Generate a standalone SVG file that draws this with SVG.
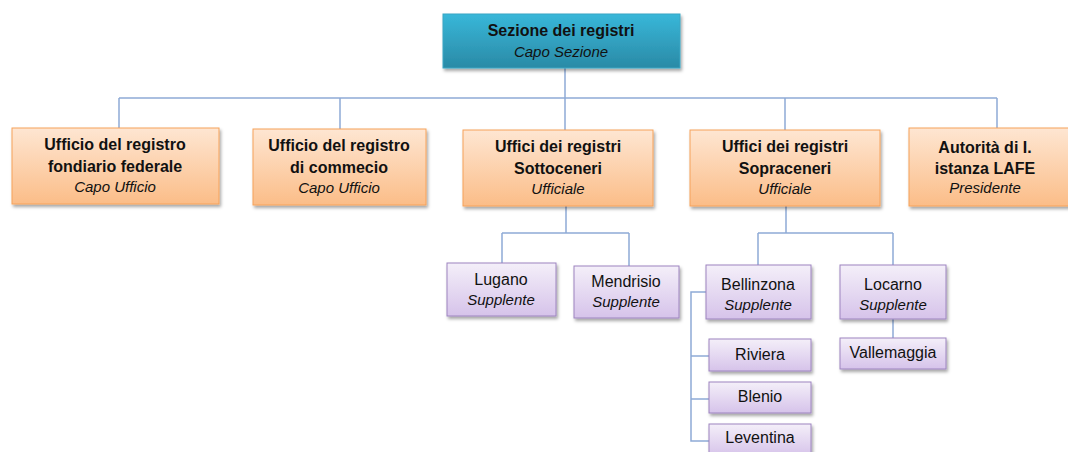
<svg xmlns="http://www.w3.org/2000/svg" width="1068" height="452" viewBox="0 0 1068 452">
<defs>
<linearGradient id="gTeal" x1="0" y1="0" x2="0" y2="1"><stop offset="0" stop-color="#38b7d9"/><stop offset="1" stop-color="#2a8aa6"/></linearGradient>
<linearGradient id="gOrange" x1="0" y1="0" x2="0" y2="1"><stop offset="0" stop-color="#fee6d2"/><stop offset="1" stop-color="#fbbd88"/></linearGradient>
<linearGradient id="gPurple" x1="0" y1="0" x2="0" y2="1"><stop offset="0" stop-color="#f4eff9"/><stop offset="1" stop-color="#d6c3ea"/></linearGradient>
<filter id="sh" x="-10%" y="-20%" width="125%" height="150%"><feDropShadow dx="1.5" dy="2.5" stdDeviation="1.5" flood-color="#000" flood-opacity="0.35"/></filter>
</defs>
<style>
.teal{fill:url(#gTeal);stroke:#3aa6c4;stroke-width:1;filter:url(#sh)}
.org{fill:url(#gOrange);stroke:#f6a25a;stroke-width:1;filter:url(#sh)}
.pur{fill:url(#gPurple);stroke:#9d84bf;stroke-width:1;filter:url(#sh)}
text{font-family:"Liberation Sans",Arial,sans-serif;fill:#111;text-anchor:middle}
.b{font-weight:bold;font-size:16px}
.i{font-style:italic;font-size:15px}
.r{font-size:16px}
.conn{fill:none;stroke:#8eabd6;stroke-width:1.5}
</style>
<g id="connectors" class="conn">
<path d="M565 68V98M119 98H997M119 98V128M340 98V129M565 98V130M785 98V130M997 98V128"/>
<path d="M566 206V233M502 233H629M502 233V263M629 233V266"/>
<path d="M786 206V233M758 233H893M758 233V265M893 233V265M893 319V338"/>
<path d="M706 292H691V441H709M691 356H709M691 399H709"/>
</g>
<g id="n-sezione"><rect class="teal" x="443" y="14" width="237" height="54"/><text class="b" x="561" y="36">Sezione dei registri</text><text class="i" x="561" y="57">Capo Sezione</text></g>
<g id="n-fondiario"><rect class="org" x="12" y="128" width="207" height="76"/><text class="b" x="115" y="150">Ufficio del registro</text><text class="b" x="115" y="172">fondiario federale</text><text class="i" x="115" y="192">Capo Ufficio</text></g>
<g id="n-commercio"><rect class="org" x="253" y="129" width="173" height="76"/><text class="b" x="339" y="151">Ufficio del registro</text><text class="b" x="339" y="173">di commecio</text><text class="i" x="339" y="193">Capo Ufficio</text></g>
<g id="n-sottoceneri"><rect class="org" x="463" y="130" width="190" height="76"/><text class="b" x="558" y="152">Uffici dei registri</text><text class="b" x="558" y="174">Sottoceneri</text><text class="i" x="558" y="194">Ufficiale</text></g>
<g id="n-sopraceneri"><rect class="org" x="690" y="130" width="190" height="76"/><text class="b" x="785" y="152">Uffici dei registri</text><text class="b" x="785" y="174">Sopraceneri</text><text class="i" x="785" y="194">Ufficiale</text></g>
<g id="n-lafe"><rect class="org" x="909" y="128" width="170" height="78"/><text class="b" x="985" y="153">Autorità di I.</text><text class="b" x="985" y="174">istanza LAFE</text><text class="i" x="985" y="193">Presidente</text></g>
<g id="n-lugano"><rect class="pur" x="447" y="263" width="109" height="53"/><text class="r" x="501" y="285">Lugano</text><text class="i" x="501" y="305">Supplente</text></g>
<g id="n-mendrisio"><rect class="pur" x="574" y="266" width="105" height="52"/><text class="r" x="626" y="287">Mendrisio</text><text class="i" x="626" y="307">Supplente</text></g>
<g id="n-bellinzona"><rect class="pur" x="706" y="265" width="105" height="54"/><text class="r" x="758" y="290">Bellinzona</text><text class="i" x="758" y="310">Supplente</text></g>
<g id="n-locarno"><rect class="pur" x="840" y="265" width="106" height="54"/><text class="r" x="893" y="290">Locarno</text><text class="i" x="893" y="310">Supplente</text></g>
<g id="n-riviera"><rect class="pur" x="709" y="339" width="102" height="32"/><text class="r" x="760" y="360">Riviera</text></g>
<g id="n-blenio"><rect class="pur" x="709" y="382" width="102" height="31"/><text class="r" x="760" y="402">Blenio</text></g>
<g id="n-leventina"><rect class="pur" x="709" y="424" width="102" height="32"/><text class="r" x="760" y="443">Leventina</text></g>
<g id="n-vallemaggia"><rect class="pur" x="840" y="338" width="106" height="31"/><text class="r" x="893" y="358">Vallemaggia</text></g>
</svg>
